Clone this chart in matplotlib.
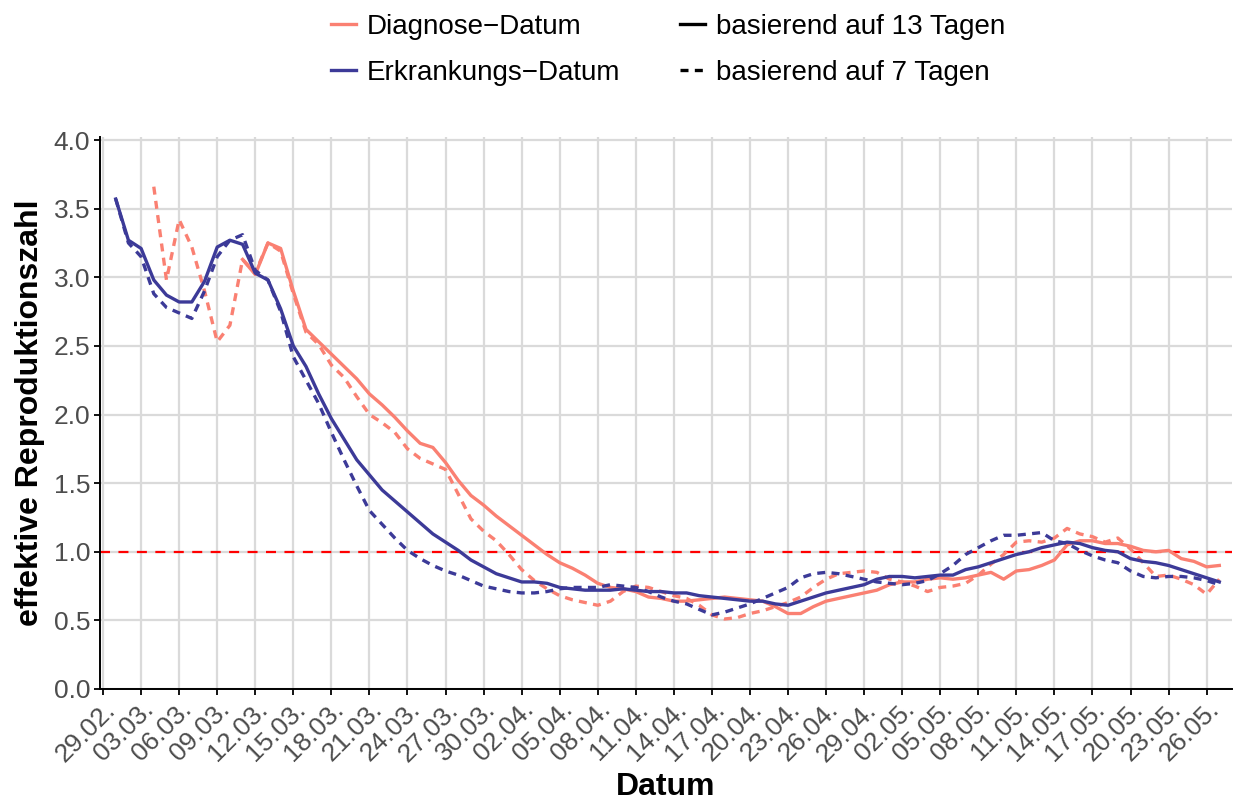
import matplotlib
matplotlib.use("Agg")
import matplotlib.pyplot as plt
import matplotlib.dates as mdates
from matplotlib.lines import Line2D
import pandas as pd
import numpy as np

plt.rcParams['font.family'] = ['Liberation Sans', 'DejaVu Sans']

# ---------------- data ----------------
axis_start = "2020-02-29"
axis_end_tick = "2020-05-26"

# Erkrankungs-Datum, 13 Tage (from 01.03.)
erk_start = "2020-03-01"
erk_13 = [3.57, 3.27, 3.21, 2.98, 2.87, 2.82, 2.82, 2.97, 3.22, 3.27,
          3.24, 3.03, 2.98, 2.77, 2.50, 2.35, 2.15, 1.97, 1.82, 1.67,
          1.56, 1.45, 1.37, 1.29, 1.21, 1.13, 1.07, 1.01, 0.94, 0.89,
          0.84, 0.81, 0.78, 0.78, 0.77, 0.74, 0.73, 0.72, 0.72, 0.72,
          0.73, 0.72, 0.71, 0.71, 0.70, 0.70, 0.68, 0.67, 0.66, 0.65,
          0.64, 0.64, 0.62, 0.61, 0.64, 0.67, 0.70, 0.72, 0.74, 0.76,
          0.80, 0.82, 0.82, 0.81, 0.82, 0.83, 0.83, 0.87, 0.89, 0.92,
          0.95, 0.98, 1.00, 1.03, 1.05, 1.07, 1.06, 1.03, 1.01, 1.00,
          0.95, 0.93, 0.92, 0.90, 0.87, 0.84, 0.81, 0.78]
# Erkrankungs-Datum, 7 Tage (from 01.03.)
erk_7 = [3.57, 3.25, 3.15, 2.88, 2.78, 2.74, 2.70, 2.90, 3.15, 3.27,
         3.31, 3.05, 2.98, 2.75, 2.42, 2.25, 2.08, 1.87, 1.67, 1.48,
         1.30, 1.20, 1.10, 1.01, 0.95, 0.90, 0.86, 0.83, 0.79, 0.75,
         0.73, 0.71, 0.70, 0.70, 0.71, 0.73, 0.74, 0.74, 0.74, 0.76,
         0.75, 0.74, 0.71, 0.67, 0.64, 0.62, 0.58, 0.54, 0.56, 0.59,
         0.62, 0.66, 0.70, 0.74, 0.81, 0.84, 0.85, 0.84, 0.82, 0.80,
         0.78, 0.77, 0.76, 0.77, 0.79, 0.84, 0.90, 0.98, 1.03, 1.08,
         1.12, 1.12, 1.13, 1.14, 1.08, 1.06, 1.01, 0.97, 0.94, 0.92,
         0.86, 0.82, 0.81, 0.82, 0.82, 0.81, 0.79, 0.76]
# Diagnose-Datum, 13 Tage (from 11.03.)
diag13_start = "2020-03-11"
diag_13 = [3.13, 3.02, 3.25, 3.21, 2.90, 2.62, 2.53, 2.44, 2.35, 2.26,
           2.15, 2.07, 1.98, 1.88, 1.79, 1.76, 1.65, 1.52, 1.41, 1.34,
           1.26, 1.19, 1.12, 1.05, 0.98, 0.92, 0.88, 0.83, 0.77, 0.74,
           0.73, 0.71, 0.67, 0.66, 0.64, 0.64, 0.65, 0.66, 0.67, 0.66,
           0.65, 0.64, 0.60, 0.55, 0.55, 0.60, 0.64, 0.66, 0.68, 0.70,
           0.72, 0.76, 0.78, 0.78, 0.80, 0.81, 0.80, 0.81, 0.83, 0.85,
           0.80, 0.86, 0.87, 0.90, 0.94, 1.05, 1.08, 1.08, 1.06, 1.06,
           1.04, 1.01, 1.00, 1.01, 0.95, 0.93, 0.89, 0.90]
# Diagnose-Datum, 7 Tage (from 04.03.)
diag7_start = "2020-03-04"
diag_7 = [3.66, 2.98, 3.42, 3.22, 2.90, 2.53, 2.65, 3.13, 3.03, 3.25,
          3.19, 2.88, 2.60, 2.51, 2.36, 2.27, 2.13, 2.00, 1.94, 1.87,
          1.75, 1.68, 1.64, 1.60, 1.42, 1.24, 1.15, 1.08, 0.98, 0.87,
          0.79, 0.73, 0.68, 0.65, 0.63, 0.61, 0.64, 0.71, 0.75, 0.74,
          0.71, 0.68, 0.66, 0.61, 0.54, 0.51, 0.52, 0.55, 0.57, 0.60,
          0.63, 0.67, 0.74, 0.80, 0.84, 0.85, 0.86, 0.85, 0.80, 0.78,
          0.75, 0.71, 0.74, 0.75, 0.77, 0.83, 0.91, 0.98, 1.07, 1.08,
          1.07, 1.10, 1.17, 1.13, 1.11, 1.07, 1.10, 1.02, 0.92, 0.82,
          0.83, 0.80, 0.76, 0.69, 0.80]

legend_colors = ["Diagnose\u2212Datum", "Erkrankungs\u2212Datum"]
legend_types = ["basierend auf 13 Tagen", "basierend auf 7 Tagen"]
y_ticks = [0.0, 0.5, 1.0, 1.5, 2.0, 2.5, 3.0, 3.5, 4.0]
threshold = 1.0

# ---------------- style ----------------
c_diag = "#FA8072"
c_erk = "#3C3A98"
lw = 2.4
dash = (2.4, 1.9)

def series(start, vals):
    return pd.date_range(start, periods=len(vals), freq="D"), vals

fig = plt.figure(figsize=(12.36, 8.01), dpi=100)
ax = fig.add_axes([100/1236, 1-689/801, (1232-100)/1236, (689-137)/801])

x0 = pd.Timestamp(axis_start)
ax.set_xlim(mdates.date2num(x0) - 0.24, mdates.date2num(x0) + 89.0)
ax.set_ylim(0, 4.022)

ticks = pd.date_range(axis_start, axis_end_tick, freq="3D")
ax.set_xticks(ticks)
ax.xaxis.set_major_formatter(mdates.DateFormatter("%d.%m."))
ax.set_yticks(y_ticks)
ax.set_yticklabels([f"{v:.1f}" for v in y_ticks])

ax.grid(True, color="#DADADA", linewidth=1.6, zorder=0)
ax.set_axisbelow(True)
for s in ["top", "right"]:
    ax.spines[s].set_visible(False)
for s in ["left", "bottom"]:
    ax.spines[s].set_linewidth(1.4)
    ax.spines[s].set_color("black")
    ax.spines[s].set_zorder(5)

ax.tick_params(axis="both", colors="black", length=4, width=1.3,
               labelcolor="#4D4D4D", labelsize=19)
ax.tick_params(axis="y", pad=3)
ax.tick_params(axis="x", pad=2)
plt.setp(ax.get_xticklabels(), rotation=45, ha="right", va="top",
         rotation_mode="anchor")

ax.axhline(threshold, color="red", linewidth=1.6, dashes=(4.5, 3.8), zorder=2)

for (start, vals, col, solid) in [
    (diag7_start, diag_7, c_diag, False),
    (diag13_start, diag_13, c_diag, True),
    (erk_start, erk_7, c_erk, False),
    (erk_start, erk_13, c_erk, True),
]:
    xs, ys = series(start, vals)
    if solid:
        ax.plot(xs, ys, color=col, linewidth=lw, zorder=3, solid_joinstyle="round")
    else:
        ax.plot(xs, ys, color=col, linewidth=lw, dashes=dash, zorder=3)

ax.set_xlabel("Datum", fontsize=23, fontweight="bold", labelpad=4)
ax.set_ylabel("effektive Reproduktionszahl", fontsize=23, fontweight="bold", labelpad=6)

handles = [Line2D([], [], color=c_diag, linewidth=lw),
           Line2D([], [], color=c_erk, linewidth=lw),
           Line2D([], [], color="black", linewidth=lw),
           Line2D([], [], color="black", linewidth=lw, dashes=dash)]
labels = legend_colors + legend_types
fig.legend(handles, labels, ncol=2, loc="center",
           bbox_to_anchor=(668/1236, 1-50/801), frameon=False,
           fontsize=20, handlelength=0.9, handletextpad=0.38,
           columnspacing=2.15, labelspacing=0.72)

fig.savefig("out.png", dpi=100)
